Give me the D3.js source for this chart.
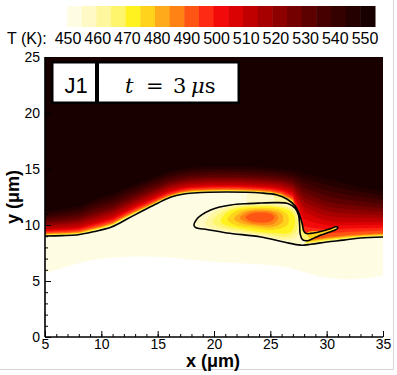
<!DOCTYPE html>
<html><head><meta charset="utf-8">
<script src="https://cdn.jsdelivr.net/npm/d3@7"></script>
<style>body{margin:0;background:#fff}svg{display:block}</style>
</head><body>
<svg id="chart" width="397" height="375"></svg>
<script>
// ---------------- data ----------------
const levels = [450,455,460,465,470,475,480,485,490,495,500,505,510,515,520,525,530,535,540,545,550];
const bandColors = ["#FFFCE4","#FFF9C6","#FFF79E","#FFF56C","#FFF21E","#FFD21C","#FFAA1A","#FF8214","#FF5514","#FF2A14","#F20A0A","#DA0202","#C00000","#A60000","#8C0000","#740000","#5C0000","#470000","#340000","#240000","#180000"];
const colorbarTicks = [450,460,470,480,490,500,510,520,530,540,550];
const xTicks = [5,10,15,20,25,30,35];
const yTicks = [0,5,10,15,20,25];

// temperature field: y (µm) of isotherms per column x (µm)
const colX    = [5,6,7,8,9,10,11,12,13,14,15,16,17,18,19,20,21,22,23,24,25,26,27,28,29,30,31,32,33,34,35];
const isoY450 = [5.7,6.0,6.3,6.6,6.85,7.0,7.1,7.15,7.2,7.2,7.15,7.1,7.0,6.9,6.8,6.7,6.65,6.6,6.55,6.5,6.4,6.3,6.1,5.8,5.5,5.3,5.2,5.15,5.2,5.3,5.5];
const isoY455 = [9.02,9.05,9.08,9.12,9.35,9.6,9.9,10.45,10.95,11.45,11.95,12.4,12.7,12.85,12.9,12.93,12.95,12.93,12.9,12.86,12.78,12.5,11.9,8.25,8.35,8.48,8.6,8.72,8.84,8.9,8.93];
const isoY490 = [9.25,9.3,9.33,9.4,9.65,9.9,10.2,10.75,11.25,11.7,12.2,12.65,12.95,13.1,13.15,13.18,13.2,13.18,13.15,13.1,13.02,12.8,12.3,8.6,8.75,8.9,9.0,9.1,9.15,9.2,9.25];
const isoY510 = [9.65,9.7,9.75,9.85,10.15,10.45,10.75,11.25,11.75,12.2,12.65,13.1,13.35,13.5,13.55,13.6,13.6,13.6,13.55,13.5,13.45,13.3,12.95,11.2,10.7,10.4,10.3,10.3,10.3,10.3,10.3];
const isoY530 = [10.3,10.4,10.5,10.65,11.0,11.3,11.6,12.1,12.55,13.0,13.4,13.8,14.05,14.2,14.25,14.3,14.3,14.3,14.25,14.2,14.15,14.05,13.8,12.9,12.5,12.1,11.9,11.8,11.7,11.6,11.5];
const isoY550 = [11.2,11.35,11.5,11.7,12.15,12.5,12.8,13.25,13.65,14.05,14.45,14.8,15.0,15.15,15.2,15.23,15.25,15.23,15.2,15.16,15.1,15.0,14.9,14.6,14.35,14.1,13.9,13.6,13.4,13.2,13.0];

// black interface line (µm)
const interfacePts = [[5.0,9.02],[6.5,9.05],[7.8,9.11],[9.3,9.4],[10.9,9.82],[12.4,10.6],[13.8,11.34],[15.0,11.95],[16.2,12.5],[17.2,12.75],[18.2,12.86],[21.1,12.95],[24.2,12.86],[25.6,12.68],[26.5,12.3],[27.2,11.7],[27.6,10.9],[27.85,10.0],[27.95,9.5],[28.15,9.25],[28.6,9.25],[29.2,9.35],[29.8,9.5],[30.4,9.68],[30.8,9.85],[31.0,9.78],[30.8,9.58],[30.2,9.35],[29.5,9.1],[28.9,8.85],[28.3,8.6],[27.85,8.7],[27.65,9.2],[27.6,10.0],[27.5,10.9],[27.2,11.5],[26.6,11.9],[25.5,12.0],[24.2,11.96],[22.8,11.9],[21.5,11.79],[20.5,11.6],[19.7,11.34],[18.9,10.9],[18.45,10.5],[18.22,10.0],[18.4,9.75],[19.1,9.64],[21.15,9.29],[24.17,8.93],[26.2,8.48],[27.7,8.2],[28.6,8.28],[30.0,8.48],[31.5,8.65],[33.0,8.84],[35.0,8.93]];

// warm pocket regions (µm), each filled with the band of its lower level
const loopRegion = [[17.2,12.75],[18.2,12.86],[21.1,12.95],[24.2,12.86],[25.6,12.68],[26.5,12.3],[27.2,11.7],[27.6,10.9],[27.85,10.0],[27.95,9.5],[28.15,9.25],[28.6,9.25],[29.2,9.35],[29.8,9.5],[30.4,9.68],[30.8,9.85],[31.0,9.78],[30.8,9.58],[30.2,9.35],[29.5,9.1],[28.9,8.85],[28.3,8.6],[27.7,8.2],[26.2,8.48],[24.17,8.93],[21.15,9.29],[19.1,9.64],[17.2,10.1]];
const stripWarm = [[23.0,12.9],[24.2,12.86],[25.6,12.68],[26.5,12.3],[27.2,11.7],[26.6,11.9],[25.5,12.0],[24.2,11.96],[23.0,11.92]];
const stripHot = [[25.3,12.72],[26.5,12.3],[27.2,11.7],[26.6,11.9],[25.5,12.0]];
const ring455 = [[18.22,10.0],[18.45,10.5],[18.9,10.9],[19.7,11.34],[20.5,11.6],[21.5,11.79],[22.8,11.9],[24.2,11.96],[25.5,12.0],[26.6,11.9],[27.2,11.5],[27.5,10.9],[27.6,10.0],[27.65,9.2],[27.85,8.7],[27.7,8.22],[26.2,8.5],[24.17,8.95],[21.15,9.31],[19.1,9.66],[18.4,9.75]];
const ring460 = [[19.2,10.1],[19.7,10.9],[20.8,11.5],[22.6,11.82],[24.5,11.88],[26.2,11.78],[27.2,11.35],[27.45,10.3],[27.4,9.0],[26.5,8.68],[24.5,9.02],[22.0,9.35],[20.0,9.68]];
const channelPts = [[27.2,11.7],[27.6,10.9],[27.85,10.0],[27.95,9.5],[28.15,9.25],[28.6,9.25],[29.8,9.5],[30.8,9.85],[31.0,9.78],[30.8,9.58],[29.5,9.1],[28.3,8.6],[27.85,8.7],[27.65,9.2],[27.6,10.0],[27.5,10.9],[27.2,11.5]];
const ring465 = [[19.9,10.2],[20.4,10.95],[21.6,11.55],[23.5,11.76],[25.3,11.74],[26.8,11.45],[27.35,10.8],[27.35,9.5],[26.6,8.95],[24.7,9.15],[22.5,9.45],[20.6,9.8]];
const ring470 = [[20.6,10.3],[21.1,11.1],[22.4,11.55],[24.0,11.66],[25.6,11.6],[26.9,11.15],[27.2,10.3],[26.8,9.35],[25.0,9.3],[23.0,9.55],[21.3,9.9]];
const tonguePts = [[28.3,9.3],[29.8,9.5],[30.7,9.8],[30.7,9.62],[29.5,9.15],[28.5,8.8]];
const ring475 = [[21.2,10.45],[21.8,11.15],[23.0,11.48],[24.4,11.54],[25.9,11.35],[26.6,10.8],[26.5,10.0],[25.3,9.58],[23.6,9.72],[21.9,10.0]];
const ring480 = [[21.8,10.55],[22.4,11.12],[23.6,11.38],[24.8,11.36],[26.0,11.0],[26.1,10.3],[25.2,9.82],[23.8,9.9],[22.4,10.15]];
const ring485 = [[22.3,10.62],[22.9,11.1],[24.0,11.25],[25.2,11.15],[25.7,10.7],[25.3,10.12],[24.1,10.02],[22.9,10.25]];
const ring490 = [[22.8,10.68],[23.3,11.02],[24.2,11.12],[25.1,10.98],[25.35,10.65],[24.95,10.3],[24.0,10.22],[23.2,10.38]];

// ---------------- drawing ----------------
const svg = d3.select("#chart");
const xs = d3.scaleLinear().domain([5,35]).range([45,383]);
const ys = d3.scaleLinear().domain([0,25]).range([337,57]);
const color = d3.scaleThreshold().domain(levels.slice(1)).range(bandColors);

// frame of picture
svg.append("line").attr("x1",393.5).attr("x2",393.5).attr("y1",0).attr("y2",369.5).attr("stroke","#d4d4d4");
svg.append("line").attr("x1",0).attr("x2",393.5).attr("y1",369.5).attr("y2",369.5).attr("stroke","#d4d4d4");

svg.append("clipPath").attr("id","plotclip").append("rect")
  .attr("x",xs(5)).attr("y",ys(25)).attr("width",xs(35)-xs(5)).attr("height",ys(0)-ys(25));
const plot = svg.append("g").attr("clip-path","url(#plotclip)");
plot.append("rect").attr("x",xs(5)).attr("y",ys(25)).attr("width",xs(35)-xs(5)).attr("height",ys(0)-ys(25)).attr("fill","#fff");

// build grid from the isotherm columns
const dx = 0.1, dy = 0.05;
const nx = Math.round(30/dx)+1, ny = Math.round(25/dy)+1;
const values = new Float64Array(nx*ny);
const isoSets = [isoY450,isoY455,isoY490,isoY510,isoY530,isoY550];
const isoT = [450,455,490,510,530,550];
for (let i=0;i<nx;i++){
  const x = 5 + i*dx;
  const k = Math.min(colX.length-2, d3.bisectRight(colX, x)-1);
  const t = (x-colX[k])/(colX[k+1]-colX[k]);
  const ky = isoSets.map(a => a[k]*(1-t)+a[k+1]*t);
  const prof = d3.scaleLinear().domain([ky[0]-1, ...ky, ky[5]+1]).range([445, ...isoT, 555]).clamp(true);
  for (let j=0;j<ny;j++) values[j*nx+i] = prof(j*dy);
}
const contours = d3.contours().size([nx,ny]).thresholds(levels)(values);
const proj = d3.geoTransform({point(px,py){ this.stream.point(xs(5+(px-0.5)*dx), ys((py-0.5)*dy)); }});
const gpath = d3.geoPath(proj);
plot.selectAll("path.band").data(contours).join("path").attr("class","band")
  .attr("d",gpath).attr("fill",(d,i)=>bandColors[i]).attr("stroke",(d,i)=>bandColors[i]).attr("stroke-width",0.3);

// warm pocket overlays
const closed = d3.line().x(d=>xs(d[0])).y(d=>ys(d[1])).curve(d3.curveCatmullRomClosed.alpha(0.5));
const overlays = [
  {pts:loopRegion,t:450},{pts:stripWarm,t:455},{pts:ring455,t:455},{pts:stripHot,t:460},{pts:ring460,t:460},
  {pts:channelPts,t:465},{pts:ring465,t:465},{pts:ring470,t:470},{pts:tonguePts,t:475},{pts:ring475,t:475},
  {pts:ring480,t:480},{pts:ring485,t:485},{pts:ring490,t:490}
];
plot.selectAll("path.ov").data(overlays).join("path").attr("class","ov")
  .attr("d",d=>closed(d.pts)).attr("fill",d=>color(d.t+1));

// interface line
const open = d3.line().x(d=>xs(d[0])).y(d=>ys(d[1])).curve(d3.curveCatmullRom.alpha(0.5));
plot.append("path").attr("d",open(interfacePts)).attr("fill","none").attr("stroke","#000").attr("stroke-width",1.6);

// label boxes
const lab = svg.append("g");
lab.append("rect").attr("x",51).attr("y",61).attr("width",189).attr("height",43).attr("fill","#000");
lab.append("rect").attr("x",53.5).attr("y",63.5).attr("width",41.5).attr("height",38).attr("fill","#fff");
lab.append("rect").attr("x",99).attr("y",63.5).attr("width",138.5).attr("height",38).attr("fill","#fff");
lab.append("text").attr("x",76).attr("y",93).attr("text-anchor","middle")
  .style("font-family","'Liberation Sans',Arial,sans-serif").style("font-size","22px").text("J1");
const tt = lab.append("text").attr("y",93).style("font-family","'DejaVu Serif','Liberation Serif',serif").style("font-size","21px");
tt.append("tspan").attr("x",125).style("font-style","italic").text("t");
tt.append("tspan").attr("x",146).text("=");
tt.append("tspan").attr("x",173).text("3");
tt.append("tspan").attr("x",191).style("font-style","italic").text("μ");
tt.append("tspan").text("s");

// axes
const axFont = "'Liberation Sans',Arial,sans-serif";
const gx = svg.append("g").attr("transform",`translate(0,${ys(0)})`);
gx.call(d3.axisBottom(xs).tickValues(d3.range(5,36,1)).tickSize(-3).tickFormat(""));
gx.select(".domain").remove();
const gx2 = svg.append("g").attr("transform",`translate(0,${ys(0)})`);
gx2.call(d3.axisBottom(xs).tickValues(xTicks).tickSize(-6).tickPadding(2).tickFormat(d3.format("d")));
gx2.select(".domain").remove();
const gy = svg.append("g").attr("transform",`translate(${xs(5)},0)`);
gy.call(d3.axisLeft(ys).tickValues(d3.range(0,26,1)).tickSize(-3).tickFormat(""));
gy.select(".domain").remove();
const gy2 = svg.append("g").attr("transform",`translate(${xs(5)},0)`);
gy2.call(d3.axisLeft(ys).tickValues(yTicks).tickSize(-6).tickPadding(5).tickFormat(d3.format("d")));
gy2.select(".domain").remove();
svg.selectAll(".tick line").attr("stroke","#000").attr("stroke-width",1);
svg.selectAll(".tick text").style("font-family",axFont).style("font-size","14px").attr("fill","#000");
svg.append("line").attr("x1",xs(5)).attr("x2",xs(35)).attr("y1",ys(0)).attr("y2",ys(0)).attr("stroke","#000").attr("stroke-width",1.6);
svg.append("line").attr("x1",xs(5)).attr("x2",xs(5)).attr("y1",ys(0)).attr("y2",ys(25)).attr("stroke","#000").attr("stroke-width",1.6);

svg.append("text").attr("x",213).attr("y",367).attr("text-anchor","middle")
  .style("font-family",axFont).style("font-weight","bold").style("font-size","18px").text("x (μm)");
svg.append("text").attr("transform","translate(19,197) rotate(-90)").attr("text-anchor","middle")
  .style("font-family",axFont).style("font-weight","bold").style("font-size","18px").text("y (μm)");

// colorbar
const cb = d3.scaleBand().domain(levels).range([67,375]).paddingInner(0);
svg.append("g").selectAll("rect").data(levels).join("rect")
  .attr("x",d=>cb(d)).attr("y",6).attr("width",cb.bandwidth()+0.5).attr("height",21).attr("fill",d=>color(d+1));
const cbLab = d3.scaleLinear().domain([450,550]).range([68,365]);
svg.append("text").attr("x",7).attr("y",44).style("font-family",axFont).style("font-size","16px").text("T (K):");
svg.append("g").selectAll("text").data(colorbarTicks).join("text")
  .attr("x",d=>cbLab(d)).attr("y",44).attr("text-anchor","middle")
  .style("font-family",axFont).style("font-size","16px").text(d=>d);
</script>
</body></html>
